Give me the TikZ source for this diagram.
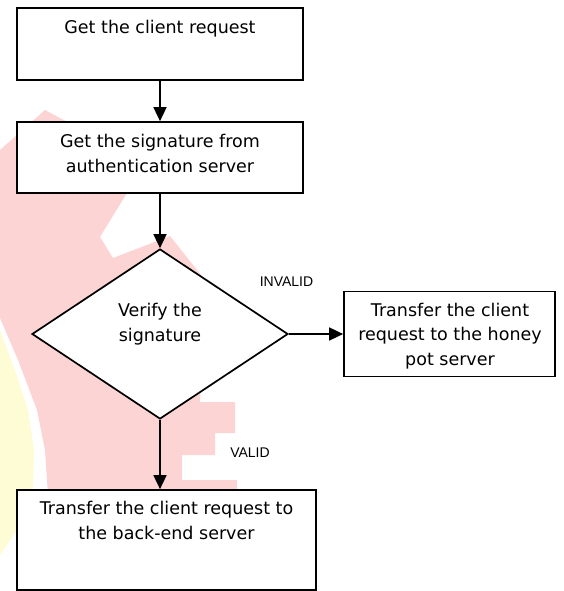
\documentclass[tikz,border=0pt]{standalone}
\usepackage{fontspec}
\setmainfont{DejaVu Sans}
\newfontfamily\labelfont{Liberation Sans}
\usetikzlibrary{shapes.geometric,arrows.meta}

\definecolor{wmpink}{RGB}{252,212,212}
\definecolor{wmyellow}{RGB}{254,252,212}

\begin{document}
\begin{tikzpicture}[x=1pt,y=-1pt,
  box/.style={draw=black, line width=1.7pt, fill=white, inner sep=0pt},
  txt/.style={font=\fontsize{17.5}{24.6}\selectfont, align=center, anchor=base, inner sep=0pt},
  tag/.style={font=\labelfont\fontsize{14}{16}\selectfont, anchor=base, inner sep=0pt},
  flow/.style={line width=1.6pt, -{Triangle[width=13pt,length=14pt]}}]

\useasboundingbox (0,0) rectangle (563,591);

% faint background emblem
\fill[wmpink] (0,150) -- (45,110) -- (75,126) -- (150,190) -- (127,193)
  -- (100,237) -- (113,258) -- (170,236) -- (205,280)
  -- (200,402) -- (235,402) -- (235,433) -- (215,433) -- (215,455)
  -- (182,455) -- (182,480) -- (237,480) -- (237,495) -- (48,495)
  -- (45,450) -- (37,410) -- (18,360) -- (0,318) -- cycle;
\fill[wmyellow] (0,330) -- (15,370) -- (28,410) -- (34,450) -- (33,490)
  -- (17,530) -- (0,555) -- cycle;

% process steps
\node[box, minimum width=286pt, minimum height=72pt] (b1) at (160,44) {};
\node[box, minimum width=286pt, minimum height=71pt] (b2) at (160,157.5) {};
\node[box, shape=diamond, minimum width=256pt, minimum height=170pt] (d) at (160,334) {};
\node[box, minimum width=211pt, minimum height=85pt] (b3) at (449.5,334) {};
\node[box, minimum width=299pt, minimum height=100pt] (b4) at (166.5,540) {};

% step texts (anchored on the baseline of the last line)
\node[txt] (t1) at (160,33.5) {Get the client request};
\node[txt] (t2) at (160,172) {Get the signature from\\authentication server};
\node[txt] (t3) at (160,341) {Verify the\\signature};
\node[txt] (t4) at (450,365.5) {Transfer the client\\request to the honey\\pot server};
\node[txt] (t5) at (166.5,539.5) {Transfer the client request to\\the back-end server};

% branch labels
\node[tag] (inv) at (286.5,286) {INVALID};
\node[tag] (val) at (250,457) {VALID};

% connectors
\draw[flow] (b1.south) -- (b2.north);
\draw[flow] (b2.south) -- (d.north);
\draw[flow] (d.east) -- (b3.west);
\draw[flow] (d.south) -- (d.south |- b4.north);
\end{tikzpicture}
\end{document}
